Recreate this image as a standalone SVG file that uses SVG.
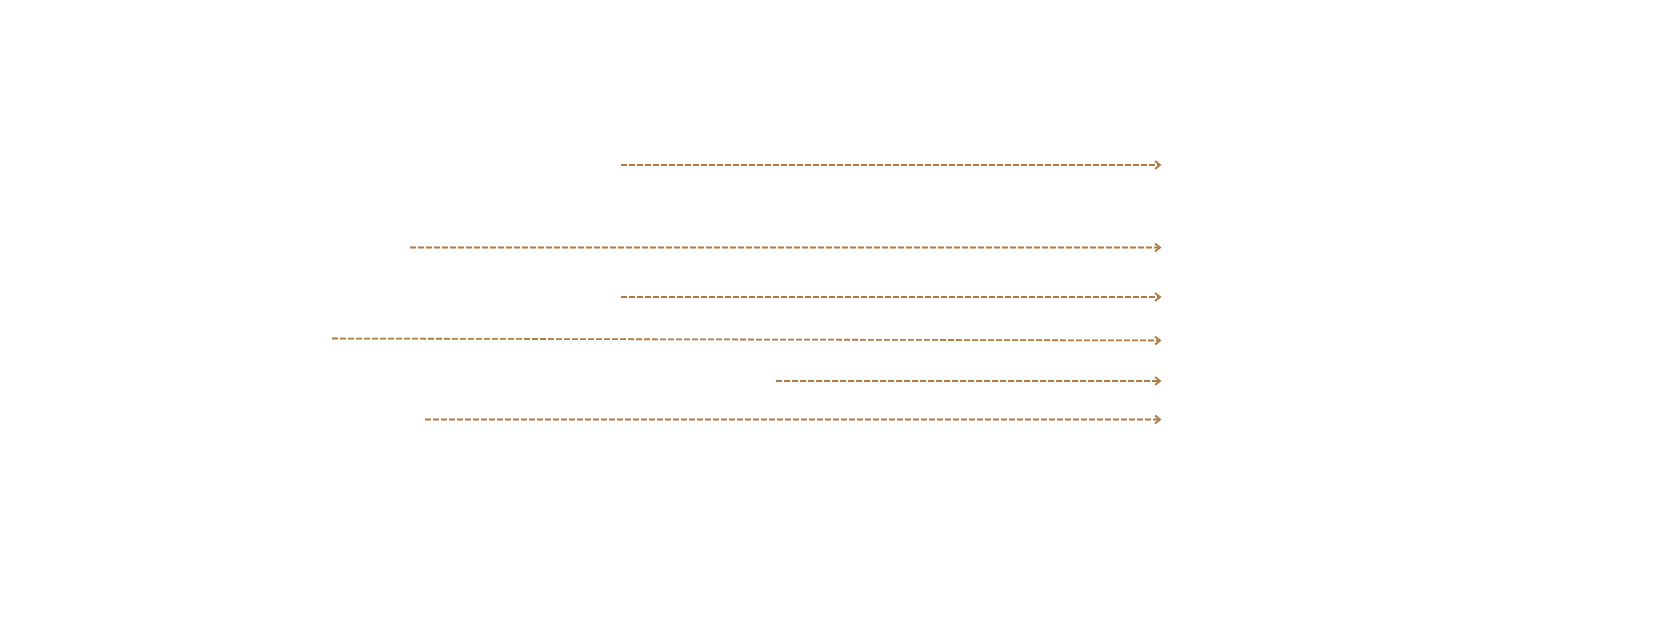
<svg xmlns="http://www.w3.org/2000/svg" width="1660" height="620" viewBox="0 0 1660 620">
<defs>
<style>
.c{fill:none;stroke:#b07a44;stroke-width:1.8;stroke-dasharray:6 2;}
.h{fill:none;stroke:#b07a44;stroke-width:2;}
</style>
</defs>
<rect width="1660" height="620" fill="#ffffff"/>
<g id="connectors">
<line class="c" x1="621" y1="165" x2="1158" y2="165"/>
<polyline class="h" points="1155,161 1160,165 1155,169"/>
<line class="c" x1="410" y1="247.5" x2="1158" y2="247.5"/>
<polyline class="h" points="1155,243.5 1160,247.5 1155,251.5"/>
<line class="c" x1="621" y1="297" x2="1158" y2="297"/>
<polyline class="h" points="1155,293 1160,297 1155,301"/>
<line class="c" x1="332" y1="338.5" x2="1158" y2="340.5"/>
<polyline class="h" points="1155,336.5 1160,340.5 1155,344.5"/>
<line class="c" x1="776" y1="381" x2="1158" y2="381"/>
<polyline class="h" points="1155,377 1160,381 1155,385"/>
<line class="c" x1="425" y1="419.5" x2="1158" y2="419.5"/>
<polyline class="h" points="1155,415.5 1160,419.5 1155,423.5"/>
</g>
</svg>
